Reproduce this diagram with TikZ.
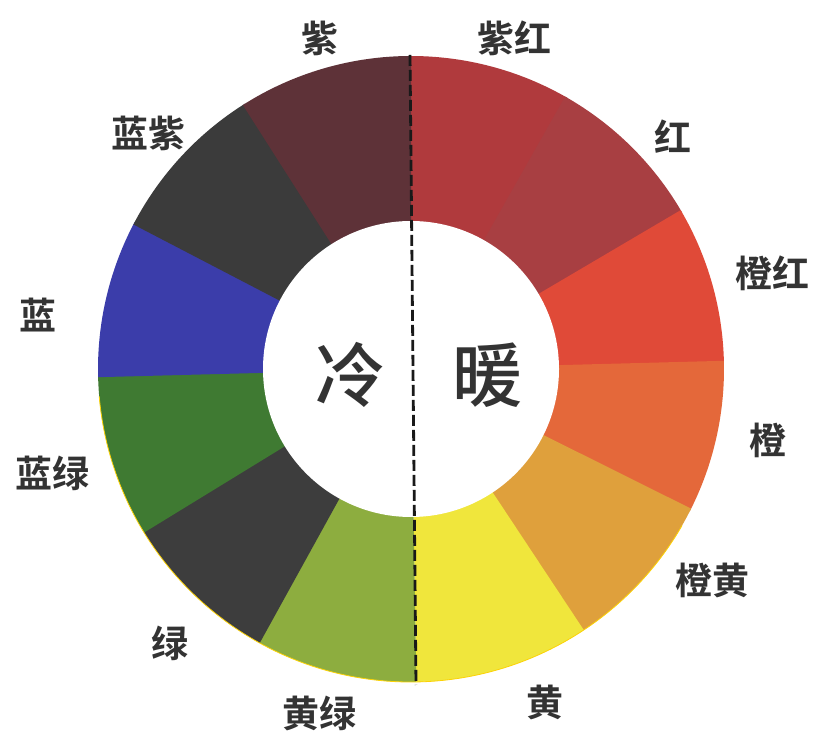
\documentclass[tikz,border=0pt]{standalone}
\usepackage{fontspec}
\newfontfamily\cjk{Noto Sans CJK SC Bold}
\newfontfamily\cjkmed{Noto Sans CJK SC Medium}
\definecolor{cZiHong}{HTML}{B03A3D}
\definecolor{cHong}{HTML}{A83F42}
\definecolor{cChengHong}{HTML}{E04A38}
\definecolor{cCheng}{HTML}{E4683A}
\definecolor{cChengHuang}{HTML}{DFA03C}
\definecolor{cHuang}{HTML}{F0E63C}
\definecolor{cHuangLv}{HTML}{8DAD3F}
\definecolor{cLv}{HTML}{3D3D3D}
\definecolor{cLanLv}{HTML}{3F7A32}
\definecolor{cLan}{HTML}{3B3DAA}
\definecolor{cLanZi}{HTML}{3B3B3B}
\definecolor{cZi}{HTML}{5E3238}
\definecolor{txt}{HTML}{333333}
\tikzset{
  lbl/.style={font=\cjk\fontsize{37}{40}\selectfont, text=txt, inner sep=0pt},
  big/.style={font=\cjkmed\fontsize{70}{72}\selectfont, text=txt, inner sep=0pt},
  divider/.style={draw=black!90, line width=2.8pt, dash pattern=on 11pt off 4pt}
}
\newcommand{\wseg}[3]{\fill[#3] (ctr) ++(#1:313) arc[start angle=#1, end angle=#2, radius=313] -- (ctr) -- cycle;}
\begin{document}
\begin{tikzpicture}[x=1pt,y=1pt]
\useasboundingbox (0,0) rectangle (814,733);
\fill[white] (0,0) rectangle (814,733);
\coordinate (ctr) at (411,364);
\wseg{60}{90.5}{cZiHong}
\wseg{30}{60.5}{cHong}
\wseg{1}{30.5}{cChengHong}
\wseg{-27}{1.5}{cCheng}
\wseg{-57}{-26.5}{cChengHuang}
\wseg{-89}{-56.5}{cHuang}
\wseg{240.6}{271}{cHuangLv}
\wseg{211}{241.1}{cLv}
\wseg{181}{211.5}{cLanLv}
\wseg{152}{181.5}{cLan}
\wseg{122}{152.5}{cLanZi}
\wseg{90}{122.5}{cZi}
\draw[yellow!70!orange, line width=0.8pt] (ctr) ++(185:313) arc[start angle=185, end angle=330, radius=313];
\fill[white] (ctr) circle[radius=148];
\coordinate (dtop) at (410,678);
\coordinate (dbot) at (416,48);
\draw[divider] (dtop) -- (dbot);
\node[lbl] (zi) at (320,695) {紫};
\node[lbl] (zihong) at (514,695) {紫红};
\node[lbl] (lanzi) at (148,600) {蓝紫};
\node[lbl] (hong) at (673,596) {红};
\node[lbl] (chenghong) at (772,460) {橙红};
\node[lbl] (lan) at (38,418) {蓝};
\node[lbl] (lanlv) at (52,260) {蓝绿};
\node[lbl] (cheng) at (768,293) {橙};
\node[lbl] (chenghuang) at (712,153) {橙黄};
\node[lbl] (lv) at (170,90) {绿};
\node[lbl] (huanglv) at (319,20) {黄绿};
\node[lbl] (huang) at (545,31) {黄};
\node[big] (leng) at (350,358) {冷};
\node[big] (nuan) at (487,358) {暖};
\end{tikzpicture}
\end{document}
